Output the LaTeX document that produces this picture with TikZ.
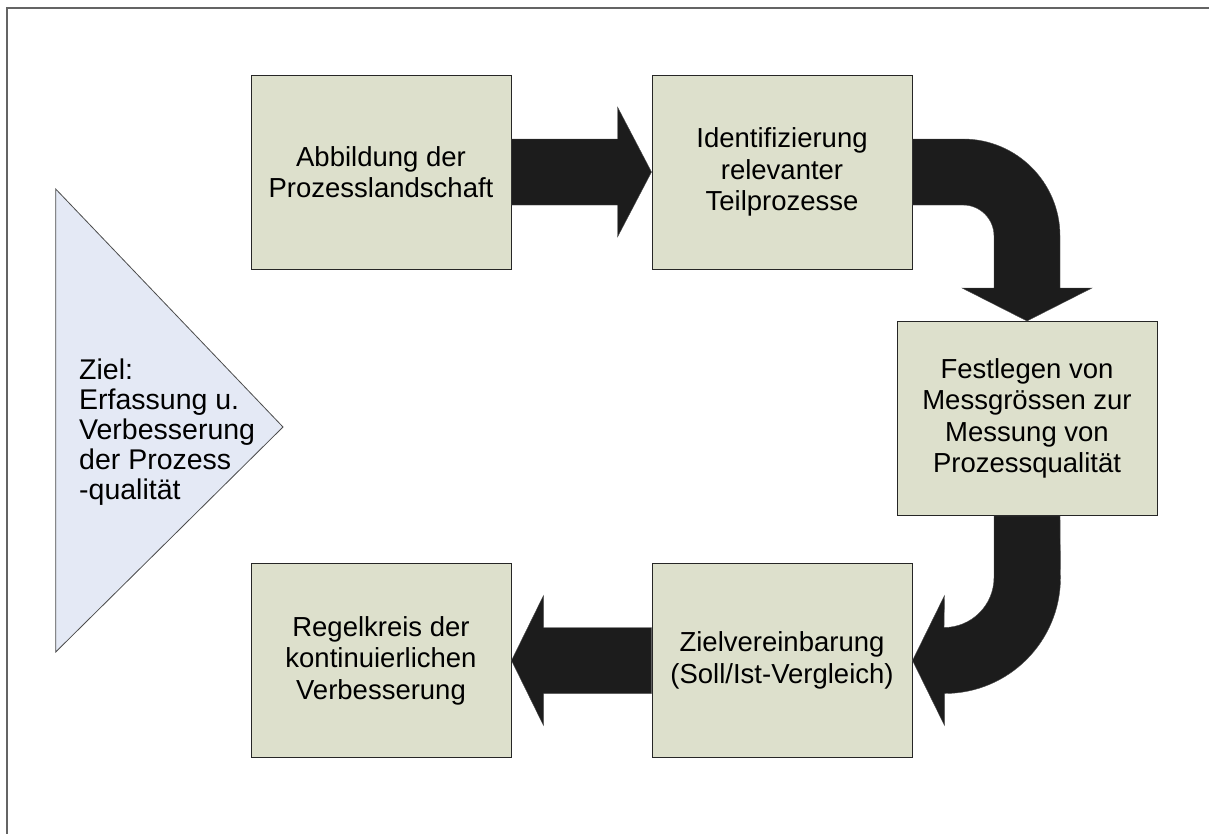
\documentclass[tikz,border=0pt]{standalone}
\usepackage{fontspec}
\setmainfont{Liberation Sans}
\usetikzlibrary{calc}
\definecolor{boxfill}{RGB}{221,224,204}
\definecolor{trifill}{RGB}{228,233,245}
\definecolor{arrowfill}{RGB}{28,28,28}
\definecolor{framegray}{RGB}{100,100,100}
\begin{document}
\begin{tikzpicture}[x=1pt,y=-1pt,
  stepbox/.style={draw=black!85, line width=1pt, fill=boxfill,
    minimum width=260pt, minimum height=194pt, inner sep=0pt,
    align=center, font=\fontsize{27.5}{31.5}\selectfont},
  blockarrow/.style={fill=arrowfill, draw=black!70, line width=0.4pt}]
\useasboundingbox (0,0) rectangle (1209,833);

% outer frame
\draw[framegray, line width=2pt] (7,850) -- (7,8) -- (1220,8);

% goal triangle
\draw[fill=trifill, draw=black!70, line width=0.8pt]
  (55.7,189) -- (283,427) -- (55.7,652) -- cycle;
\node[anchor=north west, inner sep=0pt, align=left,
      font=\fontsize{28.5}{29.8}\selectfont] (goal) at (79,359)
  {Ziel:\\Erfassung u.\\Verbesserung\\der Prozess\\-qualität};

% process steps
\node[stepbox] (b1) at (381,172)   {Abbildung der\\Prozesslandschaft};
\node[stepbox] (b2) at (782,172)   {Identifizierung\\relevanter\\Teilprozesse};
\node[stepbox] (b3) at (1027,418.5){Festlegen von\\Messgrössen zur\\Messung von\\Prozessqualität};
\node[stepbox] (b4) at (782,660.5) {Zielvereinbarung\\(Soll/Ist-Vergleich)};
\node[stepbox] (b5) at (381,660.5) {Regelkreis der\\kontinuierlichen\\Verbesserung};

% straight arrow b1 -> b2
\fill[blockarrow] ($(b1.east)+(0,-33)$) -- ($(b2.west)+(-34,-33)$)
  -- ($(b2.west)+(-34,-65)$) -- (b2.west) -- ($(b2.west)+(-34,65)$)
  -- ($(b2.west)+(-34,33)$) -- ($(b1.east)+(0,33)$) -- cycle;

% curved arrow b2 -> b3
\fill[blockarrow] ($(b2.east)+(0,-33)$)
  -- ($(b3.north |- b2.east)+(-64,-33)$) arc[start angle=-90,end angle=0,radius=97]
  -- ($(b3.north)+(33,-33)$) -- ($(b3.north)+(65,-33)$) -- (b3.north)
  -- ($(b3.north)+(-65,-33)$) -- ($(b3.north)+(-33,-33)$)
  -- ($(b3.north |- b2.east)+(-33,64)$) arc[start angle=0,end angle=-90,radius=31]
  -- ($(b2.east)+(0,33)$) -- cycle;

% curved arrow b3 -> b4
\fill[blockarrow] ($(b3.south)+(-33,0)$)
  -- ($(b3.south |- b4.east)+(-33,-83)$) arc[start angle=0,end angle=90,radius=50]
  -- ($(b4.east)+(32,-65)$) -- (b4.east) -- ($(b4.east)+(32,65)$)
  -- ($(b4.east)+(32,33)$) arc[start angle=90,end angle=0,radius=116]
  -- ($(b3.south)+(33,0)$) -- cycle;

% straight arrow b4 -> b5
\fill[blockarrow] ($(b4.west)+(0,-33)$) -- ($(b5.east)+(32,-33)$)
  -- ($(b5.east)+(32,-65)$) -- (b5.east) -- ($(b5.east)+(32,65)$)
  -- ($(b5.east)+(32,33)$) -- ($(b4.west)+(0,33)$) -- cycle;
\end{tikzpicture}
\end{document}
